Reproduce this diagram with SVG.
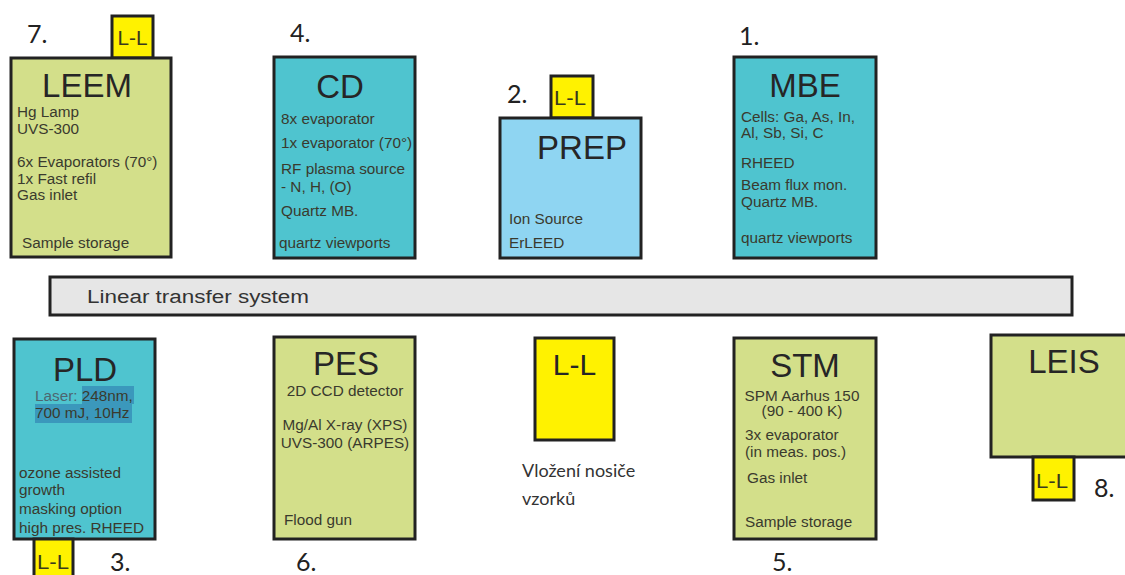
<svg xmlns="http://www.w3.org/2000/svg" width="1125" height="575" viewBox="0 0 1125 575">
<style>
.box{stroke:#222;stroke-width:3}
.g{fill:#d3df8a}
.t{fill:#4fc4cf}
.b{fill:#8fd5f2}
.y{fill:#fff200}
.title{font-family:"Liberation Sans",Arial,sans-serif;font-size:33px;fill:#262626;text-anchor:middle}
.tx{font-family:"Liberation Sans",Arial,sans-serif;font-size:15.3px;fill:#3a3a2e}
.c{text-anchor:middle}
.ll{font-family:"Liberation Sans",Arial,sans-serif;font-size:21px;fill:#3a3a1e;text-anchor:middle}
.num{font-family:Lato,"Liberation Sans",sans-serif;font-size:25px;fill:#222}
</style>
<rect width="1125" height="575" fill="#fff"/>

<g id="leem">
<text class="num" x="27" y="43">7.</text>
<rect class="box y" x="112" y="16" width="41" height="42"/>
<text class="ll" x="132.5" y="45" textLength="30" lengthAdjust="spacingAndGlyphs">L-L</text>
<rect class="box g" x="11" y="58" width="160" height="199"/>
<text class="title" x="87" y="97">LEEM</text>
<text class="tx" x="17" y="117">Hg Lamp</text>
<text class="tx" x="17" y="134">UVS-300</text>
<text class="tx" x="17" y="167">6x Evaporators (70°)</text>
<text class="tx" x="17" y="184">1x Fast refil</text>
<text class="tx" x="17" y="200">Gas inlet</text>
<text class="tx" x="22" y="248">Sample storage</text>
</g>

<g id="cd">
<text class="num" x="290" y="42">4.</text>
<rect class="box t" x="274" y="57" width="141" height="201"/>
<text class="title" x="340" y="98">CD</text>
<text class="tx" x="281" y="124">8x evaporator</text>
<text class="tx" x="281" y="148">1x evaporator (70°)</text>
<text class="tx" x="281" y="174">RF plasma source</text>
<text class="tx" x="281" y="192">- N, H, (O)</text>
<text class="tx" x="281" y="216">Quartz MB.</text>
<text class="tx" x="279" y="248">quartz viewports</text>
</g>

<g id="prep">
<text class="num" x="507" y="103">2.</text>
<rect class="box y" x="551" y="76" width="42" height="42"/>
<text class="ll" x="570" y="105" textLength="32" lengthAdjust="spacingAndGlyphs">L-L</text>
<rect class="box b" x="500" y="118" width="141" height="140"/>
<text class="title" x="582" y="159">PREP</text>
<text class="tx" x="509" y="224">Ion Source</text>
<text class="tx" x="509" y="248">ErLEED</text>
</g>

<g id="mbe">
<text class="num" x="739" y="45">1.</text>
<rect class="box t" x="734" y="57" width="142" height="201"/>
<text class="title" x="805" y="97">MBE</text>
<text class="tx" x="741" y="122">Cells: Ga, As, In,</text>
<text class="tx" x="741" y="138">Al, Sb, Si, C</text>
<text class="tx" x="741" y="168">RHEED</text>
<text class="tx" x="741" y="190">Beam flux mon.</text>
<text class="tx" x="741" y="207">Quartz MB.</text>
<text class="tx" x="741" y="243">quartz viewports</text>
</g>

<g id="transfer">
<rect x="50" y="277" width="1022" height="38" fill="#e6e6e6" stroke="#222" stroke-width="3"/>
<text x="87" y="303" font-family="'Liberation Sans',Arial,sans-serif" font-size="18" fill="#333" textLength="222" lengthAdjust="spacingAndGlyphs">Linear transfer system</text>
</g>

<g id="pld">
<rect class="box t" x="14" y="339" width="141" height="200"/>
<text class="title" x="85" y="381">PLD</text>
<rect x="82" y="386" width="52" height="18" fill="#3b98bc"/>
<rect x="35" y="404" width="97" height="19" fill="#3b98bc"/>
<text class="tx" x="35" y="401"><tspan fill="#4d6670">Laser: </tspan>248nm,</text>
<text class="tx" x="35" y="418">700 mJ, 10Hz</text>
<text class="tx" x="19" y="478">ozone assisted</text>
<text class="tx" x="19" y="495">growth</text>
<text class="tx" x="19" y="514">masking option</text>
<text class="tx" x="19" y="533">high pres. RHEED</text>
<rect class="box y" x="34" y="539" width="39" height="40"/>
<text class="ll" x="53" y="569" textLength="32" lengthAdjust="spacingAndGlyphs">L-L</text>
<text class="num" x="110" y="571">3.</text>
</g>

<g id="pes">
<rect class="box g" x="274" y="337" width="141" height="202"/>
<text class="title" x="346" y="375">PES</text>
<text class="tx c" x="345" y="396">2D CCD detector</text>
<text class="tx c" x="345" y="430">Mg/Al X-ray (XPS)</text>
<text class="tx c" x="345" y="448">UVS-300 (ARPES)</text>
<text class="tx" x="284" y="525">Flood gun</text>
<text class="num" x="296" y="571">6.</text>
</g>

<g id="ll-insert">
<rect class="box y" x="535" y="338" width="79" height="102"/>
<text x="574.5" y="375" font-family="'Liberation Sans',Arial,sans-serif" font-size="30" fill="#262626" text-anchor="middle">L-L</text>
<text x="522" y="477" font-family="Lato,'Liberation Sans',sans-serif" font-size="18" fill="#333">Vložení nosiče</text>
<text x="522" y="505" font-family="Lato,'Liberation Sans',sans-serif" font-size="18" fill="#333">vzorků</text>
</g>

<g id="stm">
<rect class="box g" x="734" y="338" width="142" height="201"/>
<text class="title" x="805" y="377">STM</text>
<text class="tx c" x="802" y="401">SPM Aarhus 150</text>
<text class="tx c" x="802" y="416">(90 - 400 K)</text>
<text class="tx" x="745" y="440">3x evaporator</text>
<text class="tx" x="745" y="457">(in meas. pos.)</text>
<text class="tx" x="747" y="483">Gas inlet</text>
<text class="tx" x="745" y="527">Sample storage</text>
<text class="num" x="772" y="571">5.</text>
</g>

<g id="leis">
<rect class="box g" x="991" y="335" width="140" height="122"/>
<text class="title" x="1064" y="373">LEIS</text>
<rect class="box y" x="1033" y="457" width="41" height="43"/>
<text class="ll" x="1052" y="488" textLength="32" lengthAdjust="spacingAndGlyphs">L-L</text>
<text class="num" x="1094" y="497">8.</text>
</g>
</svg>
